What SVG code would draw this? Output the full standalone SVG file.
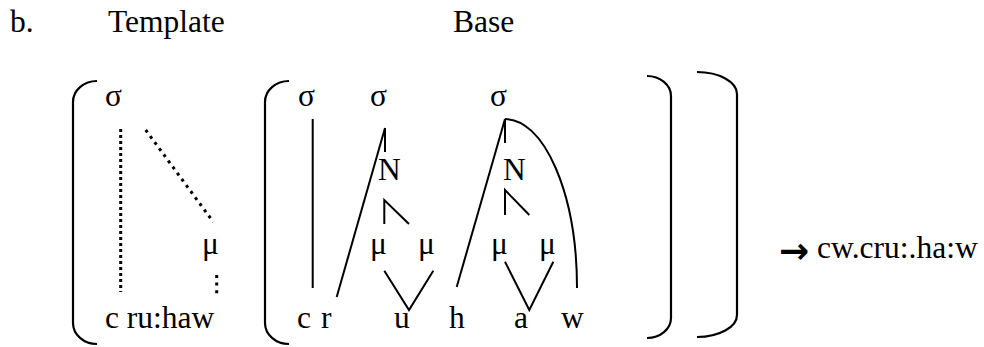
<svg xmlns="http://www.w3.org/2000/svg" width="984" height="347" viewBox="0 0 984 347">
<style>
.t{font-family:'Liberation Serif','Times New Roman',serif;font-size:31.5px;fill:#000}
.ar{font-family:'DejaVu Sans',sans-serif;font-weight:bold;font-size:36px}
.ln{stroke:#000;stroke-width:2;fill:none}
.br{stroke:#000;stroke-width:2.2;fill:none}
.dv{stroke:#000;stroke-width:3;fill:none;stroke-dasharray:3 3}
.dd{stroke:#000;stroke-width:3;fill:none;stroke-dasharray:3 4.6}
</style>
<rect width="984" height="347" fill="#fff"/>
<g id="header" class="t">
<text x="10" y="32">b.</text>
<text x="108" y="32">Template</text>
<text x="453" y="32">Base</text>
</g>
<g id="brackets">
<path class="br" d="M97,81 A24,21 0 0 0 73,102 L73,323 A24,21 0 0 0 97,344"/>
<path class="br" d="M289,81 A24,21 0 0 0 265,102 L265,323 A24,21 0 0 0 289,344"/>
<path class="br" d="M647,76 A24,20 0 0 1 671,96 L671,318 A24,20 0 0 1 647,338"/>
<path class="br" d="M697,72 A40,22 0 0 1 737,94 L737,315 A40,22 0 0 1 697,337"/>
</g>
<g id="template" class="t">
<g id="t-sigma"><text x="105" y="106">σ</text></g>
<g id="t-mu"><text x="202" y="254">μ</text></g>
<g id="t-seg"><text x="105" y="328">c ru:haw</text></g>
</g>
<g id="base" class="t">
<g id="b-sigma1"><text x="298" y="106">σ</text></g>
<g id="b-sigma2"><text x="370" y="106">σ</text></g>
<g id="b-sigma3"><text x="490" y="106">σ</text></g>
<g id="b-N1"><text x="378" y="180">N</text></g>
<g id="b-N2"><text x="503" y="180">N</text></g>
<g id="b-mu1"><text x="370" y="254">μ</text></g>
<g id="b-mu2"><text x="418" y="254">μ</text></g>
<g id="b-mu3"><text x="491" y="254">μ</text></g>
<g id="b-mu4"><text x="539" y="254">μ</text></g>
<g id="b-c"><text x="297" y="328">c</text></g>
<g id="b-r"><text x="321" y="328">r</text></g>
<g id="b-u"><text x="394" y="328">u</text></g>
<g id="b-h"><text x="449" y="328">h</text></g>
<g id="b-a"><text x="514" y="328">a</text></g>
<g id="b-w"><text x="561" y="328">w</text></g>
</g>
<g id="result" class="t">
<text x="779" y="263"><tspan class="ar">→</tspan><tspan x="817" y="258">cw.cru:.ha:w</tspan></text>
</g>
<g id="connectors">
<line class="dv" x1="120.7" y1="129" x2="120.7" y2="292"/>
<line class="dd" x1="145.7" y1="130" x2="213.3" y2="222"/>
<line class="dd" x1="216.7" y1="275" x2="216.7" y2="295"/>
<line class="ln" x1="312.7" y1="119" x2="312.7" y2="288"/>
<line class="ln" x1="385" y1="128" x2="336.7" y2="297"/>
<line class="ln" x1="385" y1="128" x2="385" y2="152"/>
<polyline class="ln" points="384.3,224 384.3,200 409,224"/>
<polyline class="ln" points="384.3,270.7 409,310 433.3,270.7"/>
<line class="ln" x1="505" y1="119" x2="456.7" y2="287"/>
<line class="ln" x1="505" y1="119" x2="505" y2="143"/>
<path class="ln" d="M505,119 A72,169 0 0 1 577,288"/>
<polyline class="ln" points="505,215 505,190 529.3,215"/>
<polyline class="ln" points="505,261.7 529.3,310 553.3,261.7"/>
</g>
</svg>
